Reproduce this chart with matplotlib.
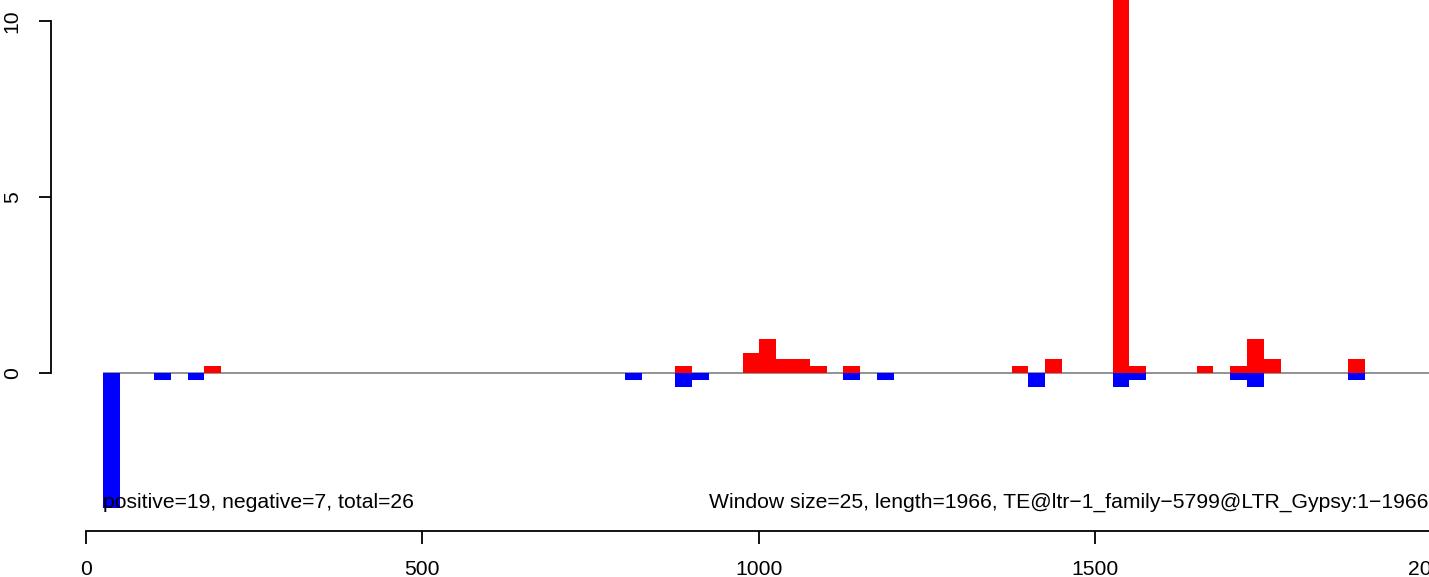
import matplotlib
matplotlib.use('Agg')
import matplotlib.pyplot as plt

# window start positions (window size 25)
bin_start = [26, 101, 151, 176, 801, 876, 901, 976, 1001, 1026, 1051, 1076,
             1126, 1176, 1376, 1401, 1426, 1526, 1551, 1651, 1701, 1726, 1751, 1876]
# signal on the positive strand
pos_vals = [0, 0, 0, 0.19, 0, 0.19, 0, 0.58, 0.96, 0.39, 0.39, 0.19,
            0.19, 0, 0.19, 0, 0.39, 12.0, 0.19, 0.19, 0.19, 0.96, 0.39, 0.39]
# signal on the negative strand
neg_vals = [-3.83, -0.19, -0.19, 0, -0.19, -0.39, -0.19, 0, 0, 0, 0, 0,
            -0.19, -0.19, 0, -0.39, 0, -0.39, -0.19, 0, -0.19, -0.39, 0, -0.19]

window = 25
x_ticks = [0, 500, 1000, 1500, 2000]
y_ticks = [0, 5, 10]
left_text = 'positive=19, negative=7, total=26'
right_text = 'Window size=25, length=1966, TE@ltr\u22121_family\u22125799@LTR_Gypsy:1\u22121966'


def main():
    plt.rcParams['font.family'] = ['Liberation Sans', 'DejaVu Sans']
    fig = plt.figure(figsize=(14.29, 5.77), dpi=100)
    W, H = 1429, 577
    ax = fig.add_axes([51 / W, 46 / H, (1460 - 51) / W, 531 / H])
    ax.set_xlim(-52, 2042.5)
    ax.set_ylim(-4.49, 10.6)

    # линия нуля
    ax.hlines(0, bin_start[0], 2100, color='#808080', lw=1.2, zorder=1)
    ax.bar(bin_start, pos_vals, width=window, align='edge', color='#FF0000', lw=0, zorder=2)
    ax.bar(bin_start, neg_vals, width=window, align='edge', color='#0000FF', lw=0, zorder=2)

    ax.text(bin_start[0], min(neg_vals), left_text, ha='left', va='baseline', fontsize=15.2)
    ax.text((709 - 86) / 0.6727, min(neg_vals), right_text, ha='left', va='baseline', fontsize=15.2)

    for s in ['top', 'right']:
        ax.spines[s].set_visible(False)
    ax.spines['left'].set_bounds(0, 10)
    ax.spines['bottom'].set_bounds(0, 2000)
    ax.spines['left'].set_linewidth(1.3)
    ax.spines['bottom'].set_linewidth(1.3)

    ax.set_xticks(x_ticks)
    ax.set_yticks(y_ticks)
    ax.tick_params(length=9, width=1.3, pad=12, labelsize=15.2)
    for lab in ax.get_yticklabels():
        lab.set_rotation(90)
        lab.set_va('center')

    fig.savefig('out.png', dpi=100)


if __name__ == '__main__':
    main()
